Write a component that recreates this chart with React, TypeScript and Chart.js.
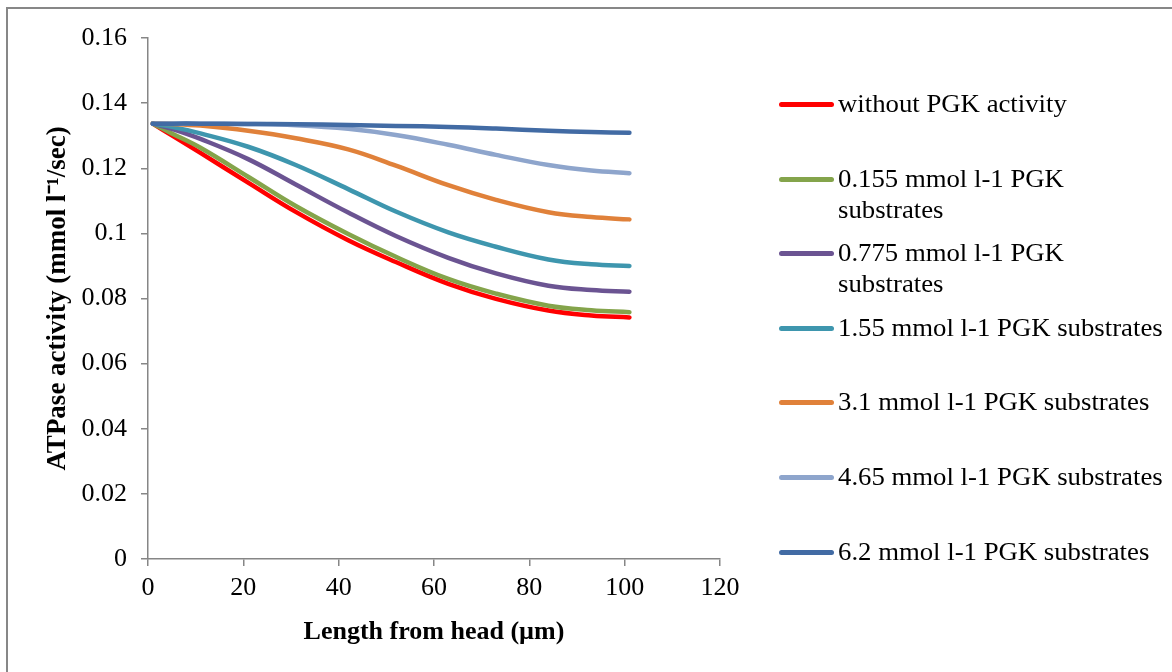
import React, { useEffect, useRef } from "react";
import { Chart, registerables } from "chart.js";

Chart.register(...registerables);

const xValues = [1, 5, 11, 21, 31, 42, 52, 63, 73, 84, 93, 101];

const seriesNames = [
  "without PGK activity",
  "0.155 mmol l-1 PGK\nsubstrates",
  "0.775 mmol l-1 PGK\nsubstrates",
  "1.55 mmol l-1 PGK substrates",
  "3.1 mmol l-1 PGK substrates",
  "4.65 mmol l-1 PGK substrates",
  "6.2 mmol l-1 PGK substrates",
];

const withoutPGK = [0.1337, 0.1301, 0.1247, 0.1156, 0.1066, 0.0979, 0.0912, 0.0845, 0.0799, 0.0763, 0.0748, 0.0742];
const pgk0155 = [0.1337, 0.1307, 0.1263, 0.1174, 0.1084, 0.0998, 0.0928, 0.086, 0.0815, 0.0778, 0.0764, 0.0758];
const pgk0775 = [0.1337, 0.1321, 0.129, 0.1228, 0.115, 0.1064, 0.0992, 0.0925, 0.0877, 0.0839, 0.0826, 0.0821];
const pgk155 = [0.1337, 0.1327, 0.1307, 0.1266, 0.121, 0.1136, 0.1067, 0.1003, 0.0959, 0.092, 0.0905, 0.09];
const pgk31 = [0.1337, 0.1336, 0.1331, 0.1315, 0.1292, 0.1258, 0.1208, 0.1148, 0.1103, 0.1065, 0.105, 0.1043];
const pgk465 = [0.1337, 0.1337, 0.1337, 0.1336, 0.1332, 0.1321, 0.1302, 0.1272, 0.1241, 0.121, 0.1193, 0.1185];
const pgk62 = [0.1337, 0.1337, 0.1337, 0.1336, 0.1335, 0.1333, 0.133, 0.1327, 0.1322, 0.1315, 0.1311, 0.1309];

const seriesValues = [withoutPGK, pgk0155, pgk0775, pgk155, pgk31, pgk465, pgk62];
const seriesColors = ["#FF0000", "#84A44B", "#6B5492", "#3E96AE", "#E0813A", "#8EA5CC", "#426BA4"];

const xTitle = "Length from head (µm)";
const yTitle = "ATPase activity (mmol l\u207B\u00B9/sec)";

const legendRowTops = [104, 179, 253, 328, 402, 477, 552];

export default function App() {
  const canvasRef = useRef<HTMLCanvasElement | null>(null);

  useEffect(() => {
    if (!canvasRef.current) return;
    const chart = new Chart(canvasRef.current, {
      type: "line",
      data: {
        datasets: seriesValues.map((vals, i) => ({
          label: seriesNames[i].replace("\n", " "),
          data: vals.map((v, j) => ({ x: xValues[j], y: v })),
          borderColor: seriesColors[i],
          backgroundColor: seriesColors[i],
          borderWidth: 4.5,
          borderCapStyle: "round" as const,
          borderJoinStyle: "round" as const,
          pointRadius: 0,
          tension: 0.4,
          fill: false,
          order: seriesValues.length - i,
        })),
      },
      options: {
        responsive: false,
        animation: false,
        layout: { padding: { top: 38, right: 452, left: 0, bottom: 0 } },
        plugins: { legend: { display: false }, tooltip: { enabled: false } },
        scales: {
          x: {
            type: "linear",
            min: 0,
            max: 120,
            ticks: {
              stepSize: 20,
              color: "#000",
              font: { family: "'Liberation Serif', 'Times New Roman', serif", size: 26 },
              padding: 7,
              maxRotation: 0,
            },
            grid: { display: true, drawOnChartArea: false, drawTicks: true, tickLength: 7, color: "#868686", lineWidth: 1.5 },
            border: { display: true, color: "#868686", width: 1.5 },
            title: {
              display: true,
              text: xTitle,
              color: "#000",
              font: { family: "'Liberation Serif', 'Times New Roman', serif", size: 26, weight: "bold" },
              padding: { top: 0, bottom: 24 },
            },
            afterFit: (scale: any) => {
              scale.height = 113;
            },
          },
          y: {
            type: "linear",
            min: 0,
            max: 0.16,
            ticks: {
              stepSize: 0.02,
              color: "#000",
              font: { family: "'Liberation Serif', 'Times New Roman', serif", size: 26 },
              padding: 14,
              callback: (v: any) => String(Number(Number(v).toFixed(2))),
            },
            grid: { display: true, drawOnChartArea: false, drawTicks: true, tickLength: 7, color: "#868686", lineWidth: 1.5 },
            border: { display: true, color: "#868686", width: 1.5 },
            title: {
              display: true,
              text: yTitle,
              color: "#000",
              font: { family: "'Liberation Serif', 'Times New Roman', serif", size: 27, weight: "bold" },
              padding: { top: 42, bottom: 0 },
            },
            afterFit: (scale: any) => {
              scale.width = 148;
            },
          },
        },
      },
    });
    return () => chart.destroy();
  }, []);

  return (
    <div style={{ position: "absolute", left: 0, top: 0, width: 1172, height: 672, overflow: "hidden", background: "#fff" }}>
      <div
        style={{
          position: "absolute",
          left: 6,
          top: 7,
          width: 1200,
          height: 700,
          border: "2px solid #878787",
          boxSizing: "border-box",
        }}
      />
      <canvas ref={canvasRef} width={1172} height={672} style={{ position: "absolute", left: 0, top: 0 }} />
      {seriesNames.map((name, i) => (
        <div key={i} style={{ position: "absolute", left: 779, top: legendRowTops[i] - 16, height: 31 }}>
          <div
            style={{
              position: "absolute",
              left: 0,
              top: 14,
              width: 55,
              height: 5,
              borderRadius: 3,
              background: seriesColors[i],
            }}
          />
          <div
            style={{
              position: "absolute",
              left: 59,
              top: 0,
              whiteSpace: "pre",
              fontFamily: "'Liberation Serif', 'Times New Roman', serif",
              fontSize: 25,
              lineHeight: "31px",
              color: "#000",
              transform: "scaleX(1.07)",
              transformOrigin: "left top",
            }}
          >
            {name}
          </div>
        </div>
      ))}
    </div>
  );
}
